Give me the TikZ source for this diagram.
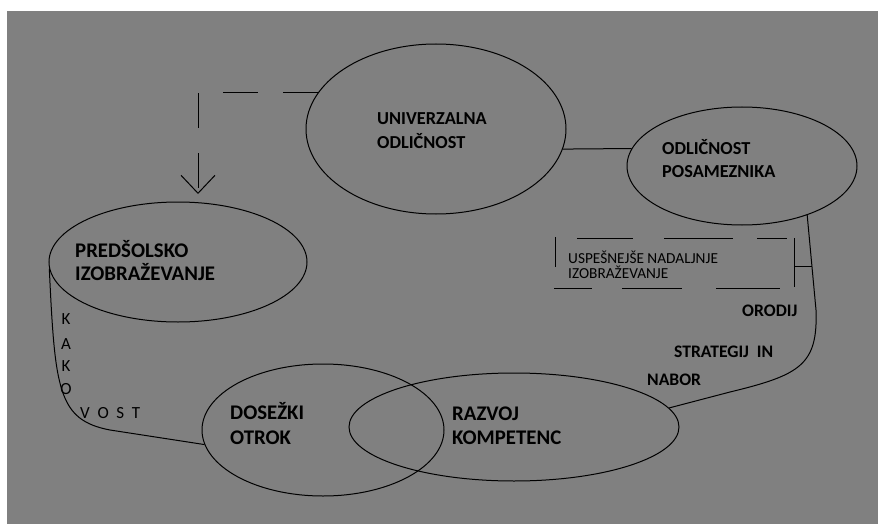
\documentclass[tikz,border=0pt]{standalone}
\usepackage{fontspec}
\setmainfont{Carlito}
\usetikzlibrary{shapes.geometric,arrows.meta}
\definecolor{bggray}{RGB}{128,128,128}
\begin{document}
\begin{tikzpicture}[x=1pt,y=-1pt,
  ell/.style={draw=black,line width=1pt,ellipse,inner sep=0pt},
  conn/.style={draw=black,line width=1pt},
  big/.style={anchor=base west,inner sep=0pt,font=\fontsize{18.3}{20}\selectfont\bfseries},
  huge/.style={anchor=base west,inner sep=0pt,font=\fontsize{20.8}{22}\selectfont\bfseries},
  mid/.style={anchor=base west,inner sep=0pt,font=\fontsize{17.6}{19}\selectfont\bfseries},
  small/.style={anchor=base west,inner sep=0pt,font=\fontsize{15.3}{17}\selectfont},
  letter/.style={anchor=base,inner sep=0pt,font=\fontsize{17}{19}\selectfont}]
\useasboundingbox (0,0) rectangle (878,524);
\fill[white] (0,0) rectangle (878,524);
\fill[bggray] (7,11) rectangle (878,524);

% ellipses
\node[ell,minimum width=260pt,minimum height=170pt] (U) at (436,129) {};
\node[ell,minimum width=230pt,minimum height=118pt] (O) at (742,166) {};
\node[ell,minimum width=258pt,minimum height=120pt] (P) at (178,262) {};
\node[ell,minimum width=242pt,minimum height=132pt] (D) at (323,430) {};
\node[ell,minimum width=330pt,minimum height=108pt] (R) at (514,427) {};

% labels in ellipses
\node[big] (u1) at (377,125) {UNIVERZALNA};
\node[big] (u2) at (377,149) {ODLIČNOST};
\node[big] (o1) at (662,154) {ODLIČNOST};
\node[big] (o2) at (662,178) {POSAMEZNIKA};
\node[huge] (p1) at (75,257) {PREDŠOLSKO};
\node[huge] (p2) at (75,280) {IZOBRAŽEVANJE};
\node[huge] (d1) at (230,419) {DOSEŽKI};
\node[huge] (d2) at (230,444) {OTROK};
\node[huge] (r1) at (452,420) {RAZVOJ};
\node[huge] (r2) at (452,444) {KOMPETENC};

% connectors
\draw[conn] (U.-9) -- (O.171);
\coordinate (tip) at (198,194);
\draw[conn,dash pattern=on 35pt off 25pt,-{Straight Barb[length=18pt,width=34pt]}] (U.163) -| (tip);
\draw[conn] (P.183) .. controls (55,390) and (58,420) .. (110,430) -- (D.187);
\coordinate (rc1) at (816,310);
\draw[conn] (O.-37) -- (rc1) .. controls (818,365) and (800,375) .. (730,392) -- (R.7);
\path (O.-37) -- (rc1) coordinate[pos=0.537] (brk);

% dashed box and bracket
\draw[conn] (555,237) -- (555,267);
\draw[conn] (577,238) -- (633,238);
\draw[conn] (664,238) -- (733,238);
\draw[conn] (757,238) -- (787,238);
\draw[conn] (554,288) -- (592,288);
\draw[conn] (622,288) -- (682,288);
\draw[conn] (716,288) -- (780,288);
\draw[conn] (794,238) -- (794,287);
\coordinate (brl) at (794,266);
\draw[conn] (brl) -- (brl -| brk);
\node[small] (b1) at (568,263) {USPEŠNEJŠE NADALJNJE};
\node[small] (b2) at (568,278) {IZOBRAŽEVANJE};

% side labels
\node[mid] (t1) at (742,316) {ORODIJ};
\node[mid] (t2) at (674,357) {STRATEGIJ\ \ IN};
\node[mid] (t3) at (647,385) {NABOR};
\node[letter] (k1) at (66,324) {K};
\node[letter] (k2) at (66,349) {A};
\node[letter] (k3) at (66,371) {K};
\node[letter] (k4) at (66,394) {O};
\node[letter,anchor=base west] (v1) at (80,418) {V\ \ O\ \ S\ \ T};
\end{tikzpicture}
\end{document}
